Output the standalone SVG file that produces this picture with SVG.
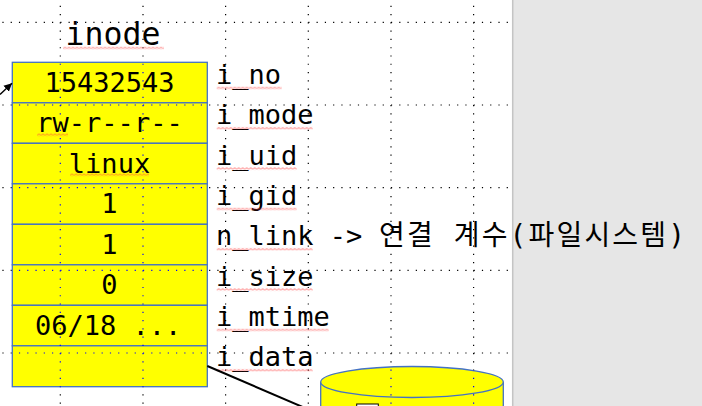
<svg xmlns="http://www.w3.org/2000/svg" xmlns:xlink="http://www.w3.org/1999/xlink" width="702" height="406" viewBox="0 0 702 406">
<style>
.mono{font-family:"DejaVu Sans Mono","Liberation Mono",monospace;fill:#000}
.cell{font-size:27px;text-anchor:middle}
.lbl{font-size:27px}
.kr{font-family:"DejaVu Sans Mono","Noto Sans CJK KR",sans-serif;font-size:28px;fill:#000}
.row{fill:#ffff00;stroke:#4472c4;stroke-width:1.3}
.sq{fill:url(#sq)}
.grid line{stroke-width:1.2;stroke-dasharray:1.2 7.067}
</style>
<defs>
<pattern id="sq" width="4" height="3" patternUnits="userSpaceOnUse">
<path d="M0,2.5 L2,0.5 L4,2.5" fill="none" stroke="#ff4040" stroke-width="0.8"/>
</pattern>
<marker id="ah" markerUnits="userSpaceOnUse" markerWidth="10" markerHeight="10" refX="8" refY="5" orient="auto">
<path d="M0,1 L8,5 L0,9 Z" fill="#000"/>
</marker>
<clipPath id="page"><rect x="0" y="0" width="511" height="406"/></clipPath>
<clipPath id="yel">
<rect x="12.3" y="62.3" width="195" height="324.4"/>
<path d="M320.7,382 V410 H503.3 V382 A91.3,15.5 0 0 0 320.7,382 Z"/>
</clipPath>
<g id="grid" class="grid">
<line x1="2.4" y1="22.3" x2="512" y2="22.3"/>
<line x1="2.4" y1="105" x2="512" y2="105"/>
<line x1="2.4" y1="187.6" x2="512" y2="187.6"/>
<line x1="2.4" y1="270.3" x2="512" y2="270.3"/>
<line x1="2.4" y1="353" x2="512" y2="353"/>
<line x1="60.3" y1="5.8" x2="60.3" y2="406"/>
<line x1="143" y1="5.8" x2="143" y2="406"/>
<line x1="225.6" y1="5.8" x2="225.6" y2="406"/>
<line x1="308.3" y1="5.8" x2="308.3" y2="406"/>
<line x1="391" y1="5.8" x2="391" y2="406"/>
<line x1="473.6" y1="5.8" x2="473.6" y2="406"/>
</g>
</defs>
<rect width="702" height="406" fill="#fff"/>
<rect x="512" y="0" width="190" height="406" fill="#e6e6e6"/>
<line x1="512.7" y1="0" x2="512.7" y2="406" stroke="#c4c4c4" stroke-width="1.5"/>
<use xlink:href="#grid" stroke="#000" clip-path="url(#page)"/>

<g id="inode-title">
<text class="mono" x="113" y="45" font-size="31.5" text-anchor="middle">inode</text>
<rect class="sq" transform="translate(63,46.5)" width="101" height="3"/>
</g>

<g id="inode">
<rect class="row" x="12.3" y="62.3" width="195" height="40.5"/>
<rect class="row" x="12.3" y="102.8" width="195" height="40.5"/>
<rect class="row" x="12.3" y="143.3" width="195" height="40.5"/>
<rect class="row" x="12.3" y="183.8" width="195" height="40.5"/>
<rect class="row" x="12.3" y="224.3" width="195" height="40.5"/>
<rect class="row" x="12.3" y="264.8" width="195" height="40.5"/>
<rect class="row" x="12.3" y="305.3" width="195" height="40.5"/>
<rect class="row" x="12.3" y="345.8" width="195" height="40.9"/>
</g>

<g id="cylinder">
<path d="M320.7,382 V412 H503.3 V382" fill="#ffff00" stroke="#4472c4" stroke-width="1.3"/>
<ellipse cx="412" cy="382" rx="91.3" ry="15.5" fill="#ffff00" stroke="#4472c4" stroke-width="1.3"/>
<rect x="356.7" y="404" width="21.6" height="10" fill="#fff" stroke="#000" stroke-width="1"/>
</g>

<use xlink:href="#grid" stroke="#0000ff" clip-path="url(#yel)"/>

<g id="inode-values" class="mono">
<text class="cell" x="109.5" y="91.7">15432543</text>
<text class="cell" x="109.5" y="132.2">rw-r--r--</text>
<text class="cell" x="109.5" y="172.7">linux</text>
<text class="cell" x="109.5" y="213.2">1</text>
<text class="cell" x="109.5" y="253.7">1</text>
<text class="cell" x="109.5" y="294.2">0</text>
<text class="lbl" x="35" y="334.7">06/18 ...</text>
<rect class="sq" transform="translate(37,133.3)" width="31" height="3"/>
<rect class="sq" transform="translate(70,173.3)" width="79" height="3"/>
</g>

<g id="field-labels" class="mono">
<text class="lbl" x="216" y="84">i_no</text>
<text class="lbl" x="216" y="124.3">i_mode</text>
<text class="lbl" x="216" y="164.6">i_uid</text>
<text class="lbl" x="216" y="205">i_gid</text>
<text class="lbl" x="216" y="245.3">n_link -&gt; </text>
<text class="lbl" x="216" y="285.6">i_size</text>
<text class="lbl" x="216" y="326">i_mtime</text>
<text class="lbl" x="216" y="366.3">i_data</text>
<rect class="sq" transform="translate(216.7,86.5)" width="65" height="3"/>
<rect class="sq" transform="translate(216.7,126.8)" width="96" height="3"/>
<rect class="sq" transform="translate(216.7,167.1)" width="80" height="3"/>
<rect class="sq" transform="translate(216.7,207.5)" width="80" height="3"/>
<rect class="sq" transform="translate(216.7,247.8)" width="96" height="3"/>
<rect class="sq" transform="translate(216.7,288.1)" width="96" height="3"/>
<rect class="sq" transform="translate(216.7,328.5)" width="112" height="3"/>
<rect class="sq" transform="translate(216.7,368.8)" width="96" height="3"/>
</g>
<g id="link-note">
<text class="kr" x="379" y="245.3" textLength="306" lengthAdjust="spacing">연결 계수(파일시스템)</text>
</g>

<g id="connectors">
<line x1="0" y1="94.5" x2="12" y2="83.3" stroke="#000" stroke-width="1.4" marker-end="url(#ah)"/>
<line x1="207.3" y1="366" x2="305" y2="408" stroke="#000" stroke-width="2"/>
</g>
</svg>
